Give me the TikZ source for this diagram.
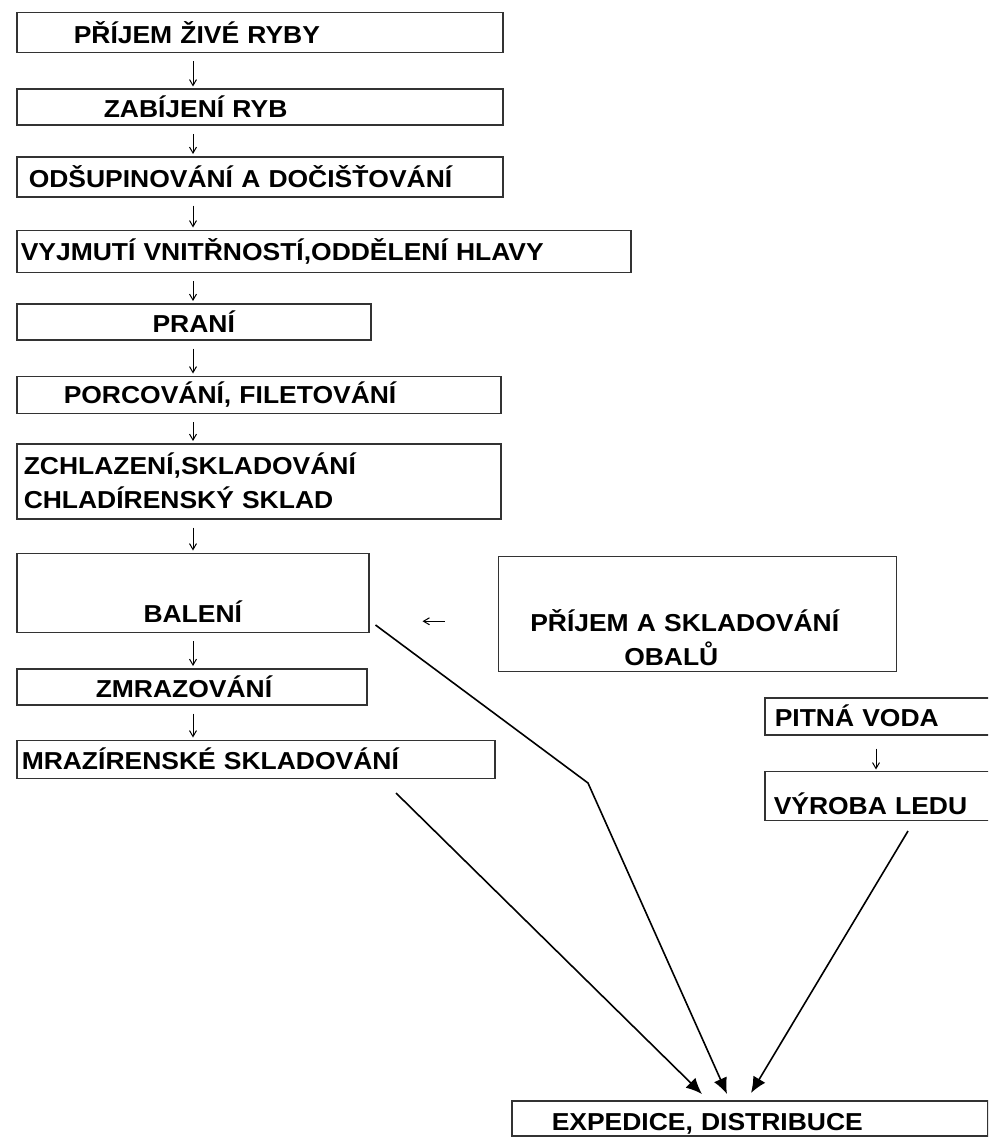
\documentclass[tikz,border=0pt]{standalone}
\usepackage{fontspec}
\setmainfont{Liberation Sans}[FakeStretch=1.08]
\usetikzlibrary{positioning,arrows.meta}

\begin{document}
\begin{tikzpicture}[x=1pt,y=1pt]
\tikzstyle{proc}=[rectangle, draw=black!80, line width=1.5pt, anchor=north west, inner ysep=2pt, align=left, font=\bfseries\fontsize{24.5}{34}\selectfont]
\tikzstyle{flow}=[-{Straight Barb[length=6pt,width=7pt]}, line width=1pt]
\tikzstyle{feed}=[-{Latex[length=16pt,width=14pt]}, line width=1.6pt]
  \clip (0,0) rectangle (988,-1137);
  \node[proc, text width=372pt, inner xsep=57pt, minimum height=40pt] (prijem) at (16,-12) {PŘÍJEM ŽIVÉ RYBY};
  \node[proc, below=35pt of prijem.south west, anchor=north west, text width=312pt, inner xsep=87pt, minimum height=36pt] (zabijeni) {ZABÍJENÍ RYB};
  \node[proc, below=30pt of zabijeni.south west, anchor=north west, text width=462pt, inner xsep=12pt, minimum height=40pt] (odsup) {ODŠUPINOVÁNÍ A DOČIŠŤOVÁNÍ};
  \node[proc, below=32pt of odsup.south west, anchor=north west, text width=606pt, inner xsep=4pt, minimum height=42pt] (vyjmuti) {VYJMUTÍ VNITŘNOSTÍ,ODDĚLENÍ HLAVY};
  \node[proc, below=30pt of vyjmuti.south west, anchor=north west, align=center, text width=334pt, inner xsep=10pt, minimum height=36pt] (prani) {PRANÍ};
  \node[proc, below=35pt of prani.south west, anchor=north west, text width=390pt, inner xsep=47pt, minimum height=37pt] (porc) {PORCOVÁNÍ, FILETOVÁNÍ};
  \node[proc, below=29pt of porc.south west, anchor=north west, text width=470pt, inner xsep=7pt, minimum height=75pt] (chlaz) {ZCHLAZENÍ,SKLADOVÁNÍ\\CHLADÍRENSKÝ SKLAD};
  \node[proc, below=33pt of chlaz.south west, anchor=north west, align=center, text width=332pt, inner xsep=10pt, minimum height=79pt, text height=60pt, text depth=0pt] (baleni) {BALENÍ};
  \node[proc, right=128pt of baleni.north east, anchor=north west, yshift=-3pt, text width=334pt, inner xsep=32pt, minimum height=115pt] (obaly) {\rule{0pt}{69pt}PŘÍJEM A SKLADOVÁNÍ\\\hspace*{94pt}OBALŮ};
  \node[proc, below=35pt of baleni.south west, anchor=north west, text width=192pt, inner xsep=79pt, minimum height=36pt] (zmraz) {ZMRAZOVÁNÍ};
  \node[proc, below=34pt of zmraz.south west, anchor=north west, text width=468pt, inner xsep=5pt, minimum height=38pt] (mraz) {MRAZÍRENSKÉ SKLADOVÁNÍ};
  \node[proc, text width=240pt, inner xsep=10pt, minimum height=37pt] (voda) at (764,-697) {PITNÁ VODA};
  \node[proc, below=35pt of voda.south west, anchor=north west, text width=242pt, inner xsep=9pt, minimum height=49pt, text height=38pt, text depth=0pt] (led) {VÝROBA LEDU};
  \node[proc, text width=396pt, inner xsep=40pt, minimum height=35pt, text height=25pt, text depth=0pt] (exped) at (511,-1100) {EXPEDICE, DISTRIBUCE};
  \foreach \a/\b in {prijem/zabijeni, zabijeni/odsup, odsup/vyjmuti, vyjmuti/prani, prani/porc, porc/chlaz, chlaz/baleni, baleni/zmraz, zmraz/mraz}
    \draw[flow, shorten <=8pt, shorten >=2pt] ([xshift=177pt]\a.south west) -- ([xshift=177pt]\b.north west);
  \draw[flow, shorten <=53pt, shorten >=53pt] ([yshift=-7.5pt]obaly.west) -- ([yshift=-7.5pt]obaly.west -| baleni.east);
  \draw[flow, shorten <=13pt, shorten >=1pt] ([xshift=112pt]voda.south west) -- ([xshift=112pt]led.north west);
  \coordinate (knee) at (588,-783);
  \draw[feed] ([shift={(380,-14)}]mraz.south west) -- ([shift={(191,6)}]exped.north west);
  \draw[feed] ([shift={(6,8)}]baleni.south east) -- (knee) -- ([shift={(216,6)}]exped.north west);
  \draw[feed] ([shift={(144,-10)}]led.south west) -- ([shift={(240,7)}]exped.north west);
\end{tikzpicture}
\end{document}
